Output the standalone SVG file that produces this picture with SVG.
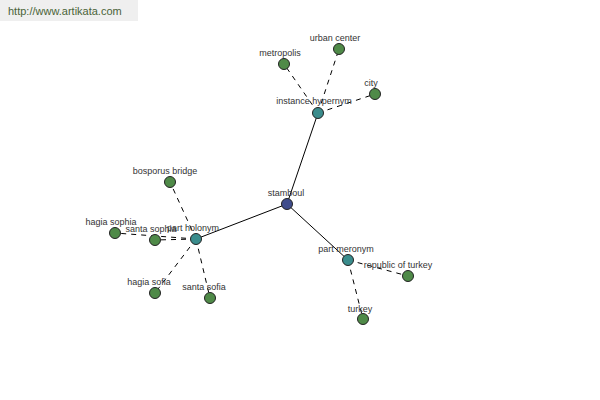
<svg xmlns="http://www.w3.org/2000/svg" width="600" height="400" viewBox="0 0 600 400">
<style>
text{font-family:"Liberation Sans",Arial,sans-serif;font-size:9px;fill:#333;text-anchor:middle}
.n{stroke:#222;stroke-width:1}
.leaf{fill:#4f8a48}
.hub{fill:#3a8c8c}
.root{fill:#3f4c8c}
.e{stroke:#000;stroke-width:1;fill:none}
.d{stroke:#000;stroke-width:1;fill:none;stroke-dasharray:5,5}
</style>
<rect width="600" height="400" fill="#fff"/>
<rect x="0" y="0" width="138" height="21" fill="#efefef"/>
<text x="8" y="15" style="text-anchor:start;font-size:11px;fill:#4a6338">http://www.artikata.com</text>
<g id="connectors">
<line class="e" x1="287" y1="204" x2="318" y2="113"/>
<line class="e" x1="287" y1="204" x2="196" y2="239"/>
<line class="e" x1="287" y1="204" x2="348" y2="260"/>
<line class="d" x1="318" y1="113" x2="284" y2="64"/>
<line class="d" x1="318" y1="113" x2="339" y2="49"/>
<line class="d" x1="318" y1="113" x2="375" y2="94"/>
<line class="d" x1="196" y1="239" x2="170" y2="182"/>
<line class="d" x1="196" y1="239" x2="115" y2="233"/>
<line class="d" x1="196" y1="239" x2="155" y2="240"/>
<line class="d" x1="196" y1="239" x2="155" y2="293"/>
<line class="d" x1="196" y1="239" x2="210" y2="298"/>
<line class="d" x1="348" y1="260" x2="408" y2="276"/>
<line class="d" x1="348" y1="260" x2="363" y2="319"/>
</g>
<g id="stamboul"><circle class="n root" cx="287" cy="204" r="5.5"/><text x="286" y="196">stamboul</text></g>
<g id="instance-hypernym"><circle class="n hub" cx="318" cy="113" r="5.5"/><text x="314" y="104">instance hypernym</text></g>
<g id="metropolis"><circle class="n leaf" cx="284" cy="64" r="5.5"/><text x="280" y="56">metropolis</text></g>
<g id="urban-center"><circle class="n leaf" cx="339" cy="49" r="5.5"/><text x="335" y="41">urban center</text></g>
<g id="city"><circle class="n leaf" cx="375" cy="94" r="5.5"/><text x="371" y="86">city</text></g>
<g id="part-holonym"><circle class="n hub" cx="196" cy="239" r="5.5"/><text x="193" y="231">part holonym</text></g>
<g id="bosporus-bridge"><circle class="n leaf" cx="170" cy="182" r="5.5"/><text x="165" y="174">bosporus bridge</text></g>
<g id="hagia-sophia"><circle class="n leaf" cx="115" cy="233" r="5.5"/><text x="111" y="225">hagia sophia</text></g>
<g id="santa-sophia"><circle class="n leaf" cx="155" cy="240" r="5.5"/><text x="151" y="232">santa sophia</text></g>
<g id="hagia-sofia"><circle class="n leaf" cx="155" cy="293" r="5.5"/><text x="149" y="285">hagia sofia</text></g>
<g id="santa-sofia"><circle class="n leaf" cx="210" cy="298" r="5.5"/><text x="204" y="290">santa sofia</text></g>
<g id="part-meronym"><circle class="n hub" cx="348" cy="260" r="5.5"/><text x="346" y="252">part meronym</text></g>
<g id="republic-of-turkey"><circle class="n leaf" cx="408" cy="276" r="5.5"/><text x="398" y="268">republic of turkey</text></g>
<g id="turkey"><circle class="n leaf" cx="363" cy="319" r="5.5"/><text x="360" y="312">turkey</text></g>
</svg>
